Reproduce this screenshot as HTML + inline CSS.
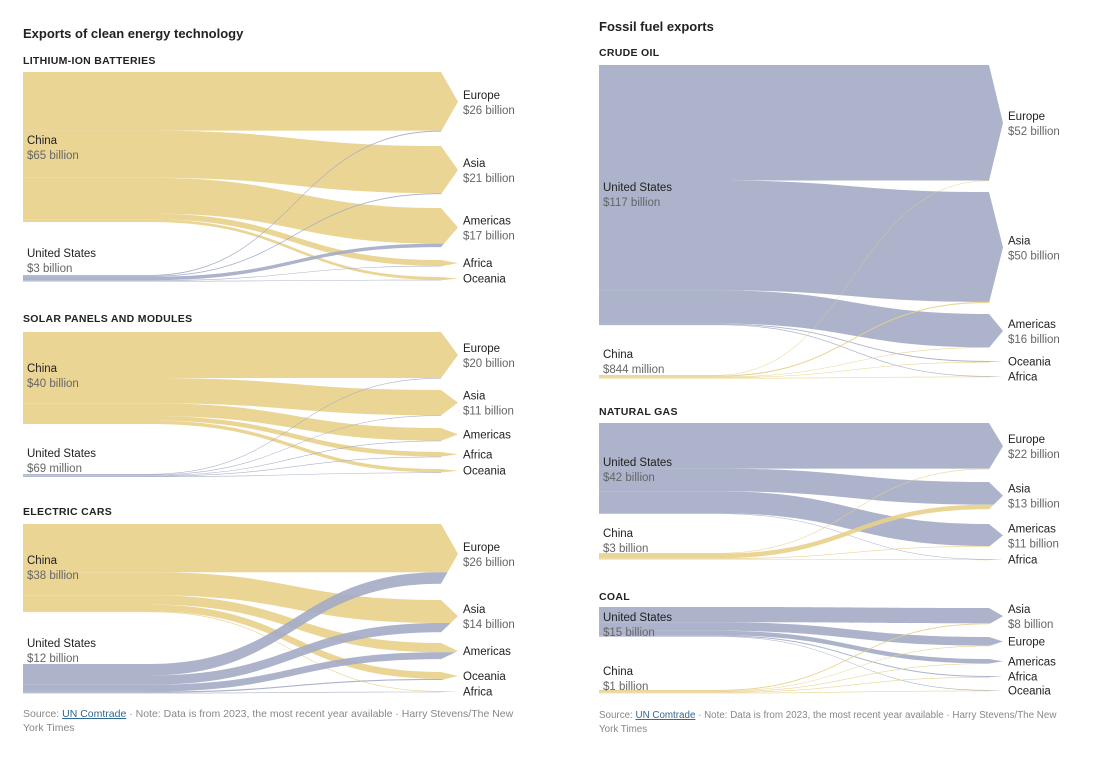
<!DOCTYPE html>
<html><head><meta charset="utf-8">
<style>
body{margin:0;background:#fff;width:1102px;height:761px;overflow:hidden;font-family:"Liberation Sans",Arial,sans-serif}
svg{display:block}
.t{font-weight:bold;font-size:13px;fill:#222}
.s{font-weight:bold;font-size:10.5px;fill:#222;letter-spacing:.3px}
.n{font-size:11.5px;fill:#222}
.v{font-size:11.5px;fill:#666}
.f{font-size:10.5px;fill:#888}
.f2{font-size:9.8px;fill:#888}
</style></head><body>
<svg id="chart" width="1102" height="761" viewBox="0 0 1102 761"></svg>
<script>
// ---- data ----
const liSources=["China","United States"], liSourceLabels=["$65 billion","$3 billion"];
const liTargets=["Europe","Asia","Americas","Africa","Oceania"], liTargetLabels=["$26 billion","$21 billion","$17 billion","",""];
const liFlows=[[25.5,20.5,15.5,2.5,1.2],[0.4,0.4,1.5,0.2,0.2]];

const soSources=["China","United States"], soSourceLabels=["$40 billion","$69 million"];
const soTargets=["Europe","Asia","Americas","Africa","Oceania"], soTargetLabels=["$20 billion","$11 billion","","",""];
const soFlows=[[20,11,5.5,2,1.5],[0.03,0.02,0.02,0.01,0.01]];

const evSources=["China","United States"], evSourceLabels=["$38 billion","$12 billion"];
const evTargets=["Europe","Asia","Americas","Oceania","Africa"], evTargetLabels=["$26 billion","$14 billion","","",""];
const evFlows=[[21,10,4,3,0.3],[5,4,3,0.5,0.1]];

const crSources=["United States","China"], crSourceLabels=["$117 billion","$844 million"];
const crTargets=["Europe","Asia","Americas","Oceania","Africa"], crTargetLabels=["$52 billion","$50 billion","$16 billion","",""];
const crFlows=[[52,49.5,15,0.4,0.3],[0.1,0.5,0.2,0.02,0.02]];

const ngSources=["United States","China"], ngSourceLabels=["$42 billion","$3 billion"];
const ngTargets=["Europe","Asia","Americas","Africa"], ngTargetLabels=["$22 billion","$13 billion","$11 billion",""];
const ngFlows=[[21.7,10.8,10.5,0.2],[0.3,2.2,0.3,0.2]];

const coSources=["United States","China"], coSourceLabels=["$15 billion","$1 billion"];
const coTargets=["Asia","Europe","Americas","Africa","Oceania"], coTargetLabels=["$8 billion","","","",""];
const coFlows=[[7.6,4.3,2.2,0.5,0.3],[0.5,0.2,0.1,0.1,0.1]];

// ---- layout ----
const COL={"China":"#e8d089","United States":"#a3abc5"};
const svg=document.getElementById('chart');
const NS="http://www.w3.org/2000/svg";
function mk(tag,attrs,parent){const e=document.createElementNS(NS,tag);for(const k in attrs)e.setAttribute(k,attrs[k]);(parent||svg).appendChild(e);return e;}
function txt(x,y,cls,s,name){const e=mk('text',{x:x,y:y,class:cls});e.textContent=s;


return e;}
let clipId=0;
function panel(p){
  const g=mk('g',{});
  
  
  const sc=p.scale;
  const srcTot=p.flows.map(r=>r.reduce((a,b)=>a+b,0));
  const tgtTot=p.targets.map((t,j)=>p.flows.reduce((a,r)=>a+r[j],0));
  const xa=p.x0+(p.x1-p.x0)*0.3, xm=(xa+p.x1)/2;
  const tOff=p.tTop.slice();
  p.flows.forEach((row,i)=>{
    let sy=p.sTop[i];
    row.forEach((v,j)=>{
      const h=Math.max(v*sc,0.6);
      const ty=tOff[j];
      const d=`M${p.x0},${sy}H${xa}C${xm},${sy} ${xm},${ty} ${p.x1},${ty}V${ty+h}C${xm},${ty+h} ${xm},${sy+h} ${xa},${sy+h}H${p.x0}Z`;
      const f=mk('path',{d:d,fill:COL[p.sources[i]],'fill-opacity':0.9},g);
      
      
      sy+=h; tOff[j]+=h;
    });
  });
  p.sources.forEach((s,i)=>{
    const h=Math.max(srcTot[i]*sc,0.8);
    const r=mk('rect',{x:p.x0,y:p.sTop[i],width:xa-p.x0-20,height:h,fill:'none'},g);
    
    
    txt(p.x0+4,p.sLab[i],'n',s,'source-name');
    txt(p.x0+4,p.sLab[i]+15,'v',p.sourceLabels[i],'source-value');
  });
  p.targets.forEach((t,j)=>{
    const top=p.tTop[j], h=Math.max(tgtTot[j]*sc,1), mid=top+h/2;
    const cid='cl'+(clipId++);
    const cp=mk('clipPath',{id:cid},g);
    mk('polygon',{points:`${p.x1},${top} ${p.tip},${mid} ${p.x1},${top+h}`},cp);
    const ag=mk('g',{'clip-path':`url(#${cid})`},g);
    
    
    let y=top;
    p.flows.forEach((row,i)=>{const hh=row[j]*sc;mk('rect',{x:p.x1-0.5,y:y,width:p.tip-p.x1+2,height:Math.max(hh,0.6),fill:COL[p.sources[i]],'fill-opacity':0.9},ag);y+=hh;});
    const lx=p.tip+5;
    if(p.targetLabels[j]){txt(lx,mid-3,'n',t,'target-name');txt(lx,mid+12,'v',p.targetLabels[j],'target-value');}
    else txt(lx,mid+4,'n',t,'target-name');
  });
}
txt(23,38,'t','Exports of clean energy technology','left-title');
txt(599,31,'t','Fossil fuel exports','right-title');
txt(23,64,'s','LITHIUM-ION BATTERIES','subtitle-lithium');
txt(23,322,'s','SOLAR PANELS AND MODULES','subtitle-solar');
txt(23,515,'s','ELECTRIC CARS','subtitle-ev');
txt(599,56,'s','CRUDE OIL','subtitle-crude');
txt(599,415,'s','NATURAL GAS','subtitle-gas');
txt(599,600,'s','COAL','subtitle-coal');

panel({name:'lithium-panel',sources:liSources,sourceLabels:liSourceLabels,targets:liTargets,targetLabels:liTargetLabels,flows:liFlows,
 scale:2.3,x0:23,x1:441,tip:458,sTop:[72,275],sLab:[144,257],tTop:[72,146,208,260,277]});
panel({name:'solar-panel',sources:soSources,sourceLabels:soSourceLabels,targets:soTargets,targetLabels:soTargetLabels,flows:soFlows,
 scale:2.3,x0:23,x1:441,tip:458,sTop:[332,474],sLab:[372,457],tTop:[332,390,428,452,469]});
panel({name:'ev-panel',sources:evSources,sourceLabels:evSourceLabels,targets:evTargets,targetLabels:evTargetLabels,flows:evFlows,
 scale:2.3,x0:23,x1:441,tip:458,sTop:[524,664],sLab:[564,647],tTop:[524,600,643,672,691]});
panel({name:'crude-panel',sources:crSources,sourceLabels:crSourceLabels,targets:crTargets,targetLabels:crTargetLabels,flows:crFlows,
 scale:2.22,x0:599,x1:989,tip:1003,sTop:[65,375],sLab:[191,358],tTop:[65,192,314,361,376]});
panel({name:'gas-panel',sources:ngSources,sourceLabels:ngSourceLabels,targets:ngTargets,targetLabels:ngTargetLabels,flows:ngFlows,
 scale:2.1,x0:599,x1:989,tip:1003,sTop:[423,553],sLab:[466,537],tTop:[423,482,524,559]});
panel({name:'coal-panel',sources:coSources,sourceLabels:coSourceLabels,targets:coTargets,targetLabels:coTargetLabels,flows:coFlows,
 scale:2.0,x0:599,x1:989,tip:1003,sTop:[607,690],sLab:[621,675],tTop:[608,637,659,676,690]});

function footer(x,y,cls,name){
  const t=mk('text',{x:x,y:y,class:cls});
  
  
  t.innerHTML='Source: <tspan text-decoration="underline" fill="#326891">UN Comtrade</tspan>  ·  Note: Data is from 2023, the most recent year available  ·  Harry Stevens/The New';
  txt(x,y+14,cls,'York Times',name+'-line2');
}
footer(23,717,'f','left-footer');
footer(599,718,'f2','right-footer');
</script>
</body></html>
